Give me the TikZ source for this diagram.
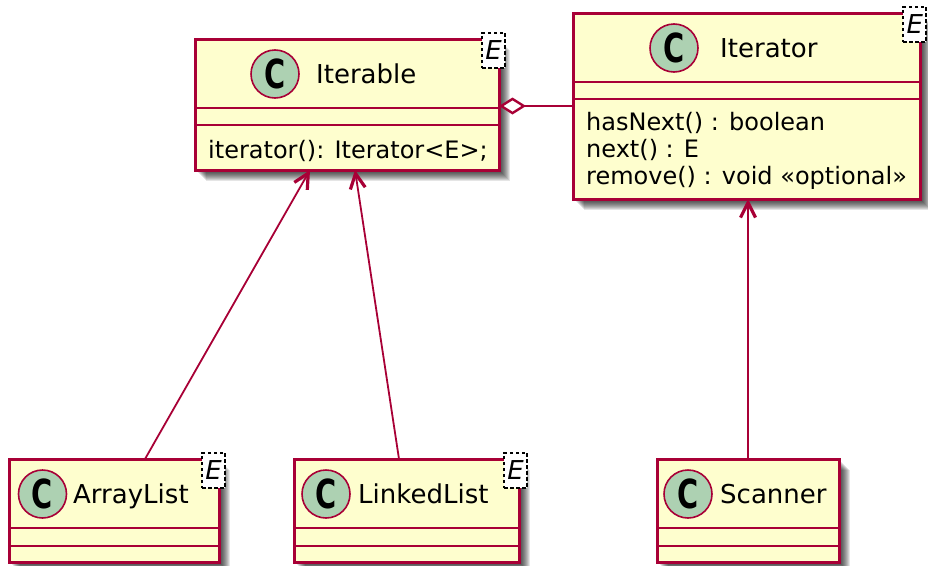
\documentclass[tikz,border=0pt]{standalone}
\usepackage{fontspec}
\setmainfont{DejaVu Sans}
\usepackage{graphicx}
\usetikzlibrary{arrows.meta,shadows}

\definecolor{umlborder}{HTML}{A80036}
\definecolor{umlfill}{HTML}{FEFECE}
\definecolor{umlspot}{HTML}{ADD1B2}

\tikzset{
  softshadow/.style={drop shadow={shadow xshift=#1, shadow yshift=-#1, fill=black, opacity=0.1}},
  classbox/.style={rectangle, draw=umlborder, fill=umlfill, line width=3pt,
    inner sep=0pt, outer sep=0pt,
    softshadow=1pt, softshadow=2pt, softshadow=3pt, softshadow=4pt, softshadow=5pt,
    softshadow=6pt, softshadow=7pt, softshadow=8pt, softshadow=9pt, softshadow=10pt, softshadow=11pt},
  sepline/.style={draw=umlborder, line width=2.6pt},
  spot/.style={circle, draw=umlborder, fill=umlspot, line width=1.6pt,
    minimum size=48pt, inner sep=0pt, font=\fontsize{40}{40}\selectfont\bfseries},
  classname/.style={anchor=base west, inner sep=0pt, font=\fontsize{26}{30}\selectfont},
  member/.style={anchor=base west, inner sep=0pt, font=\fontsize{24}{27}\selectfont},
  generic/.style={rectangle, anchor=north east, draw=black, dash pattern=on 3.5pt off 2.5pt,
    line width=1.6pt, fill=white, inner sep=0pt, minimum width=23pt, minimum height=35pt,
    font=\fontsize{26}{26}\selectfont\itshape},
  assoc/.style={draw=umlborder, line width=1.8pt},
  extends/.style={assoc, arrows={Straight Barb[length=15pt, width=15pt, line width=3.2pt]-}},
  aggregates/.style={assoc, arrows={Diamond[open, length=27pt, width=17pt, fill=white, line width=2.4pt]-}},
}

\newcommand{\classspot}{\scalebox{0.72}[1]{C}}

\begin{document}
\begin{tikzpicture}[x=1pt, y=-1pt]
  \fill[white] (0,0) rectangle (928,565);
  \useasboundingbox (0,0) rectangle (928,565);

  % class boxes
  \node[classbox, minimum width=304pt, minimum height=131pt] (iterable) at (347,104.5) {};
  \node[classbox, minimum width=347pt, minimum height=186pt] (iterator) at (746.5,106) {};
  \node[classbox, minimum width=210pt, minimum height=103pt] (arraylist) at (114,510.5) {};
  \node[classbox, minimum width=225pt, minimum height=103pt] (linkedlist) at (406.5,510.5) {};
  \node[classbox, minimum width=182pt, minimum height=103pt] (scanner) at (748,510.5) {};

  % compartment separators
  \draw[sepline] (195,108) -- (499,108);
  \draw[sepline] (195,125) -- (499,125);
  \draw[sepline] (573,82) -- (920,82);
  \draw[sepline] (573,99) -- (920,99);
  \foreach \l/\r in {9/219, 294/519, 657/839} {
    \draw[sepline] (\l,528) -- (\r,528);
    \draw[sepline] (\l,546) -- (\r,546);
  }

  % class spots and names
  \node[spot] (iterableC) at (275,74) {\classspot};
  \node[classname] (iterableN) at (316,83) {Iterable};
  \node[spot] (iteratorC) at (674,48) {\classspot};
  \node[classname] (iteratorN) at (720,57) {Iterator};
  \node[spot] (arraylistC) at (42.5,494) {\classspot};
  \node[classname] (arraylistN) at (73,503) {ArrayList};
  \node[spot] (linkedlistC) at (326,494) {\classspot};
  \node[classname] (linkedlistN) at (358,503) {LinkedList};
  \node[spot] (scannerC) at (688,494) {\classspot};
  \node[classname] (scannerN) at (720,503) {Scanner};

  % members
  \node[member] (iterableM) at (208,158) {iterator(): Iterator<E>;};
  \node[member] (hasnext) at (586,130) {hasNext() : boolean};
  \node[member] (next) at (586,157) {next() : E};
  \node[member] (remove) at (586,184) {remove() : void «optional»};

  % generic parameters
  \node[generic] (iterableE) at ([xshift=7pt, yshift=7pt]iterable.north east) {E};
  \node[generic] (iteratorE) at ([xshift=7pt, yshift=7pt]iterator.north east) {E};
  \node[generic] (arraylistE) at ([xshift=7pt, yshift=7pt]arraylist.north east) {E};
  \node[generic] (linkedlistE) at ([xshift=9pt, yshift=7pt]linkedlist.north east) {E};

  % relations
  \draw[extends] ([xshift=115pt]iterable.south west) -- ([xshift=136pt]arraylist.north west);
  \draw[extends] ([xshift=160pt]iterable.south west) -- ([xshift=105pt]linkedlist.north west);
  \draw[extends] (scanner.north |- iterator.south) -- (scanner.north);
  \draw[aggregates] (iterable.east |- iterator.west) -- (iterator.west);
\end{tikzpicture}
\end{document}
